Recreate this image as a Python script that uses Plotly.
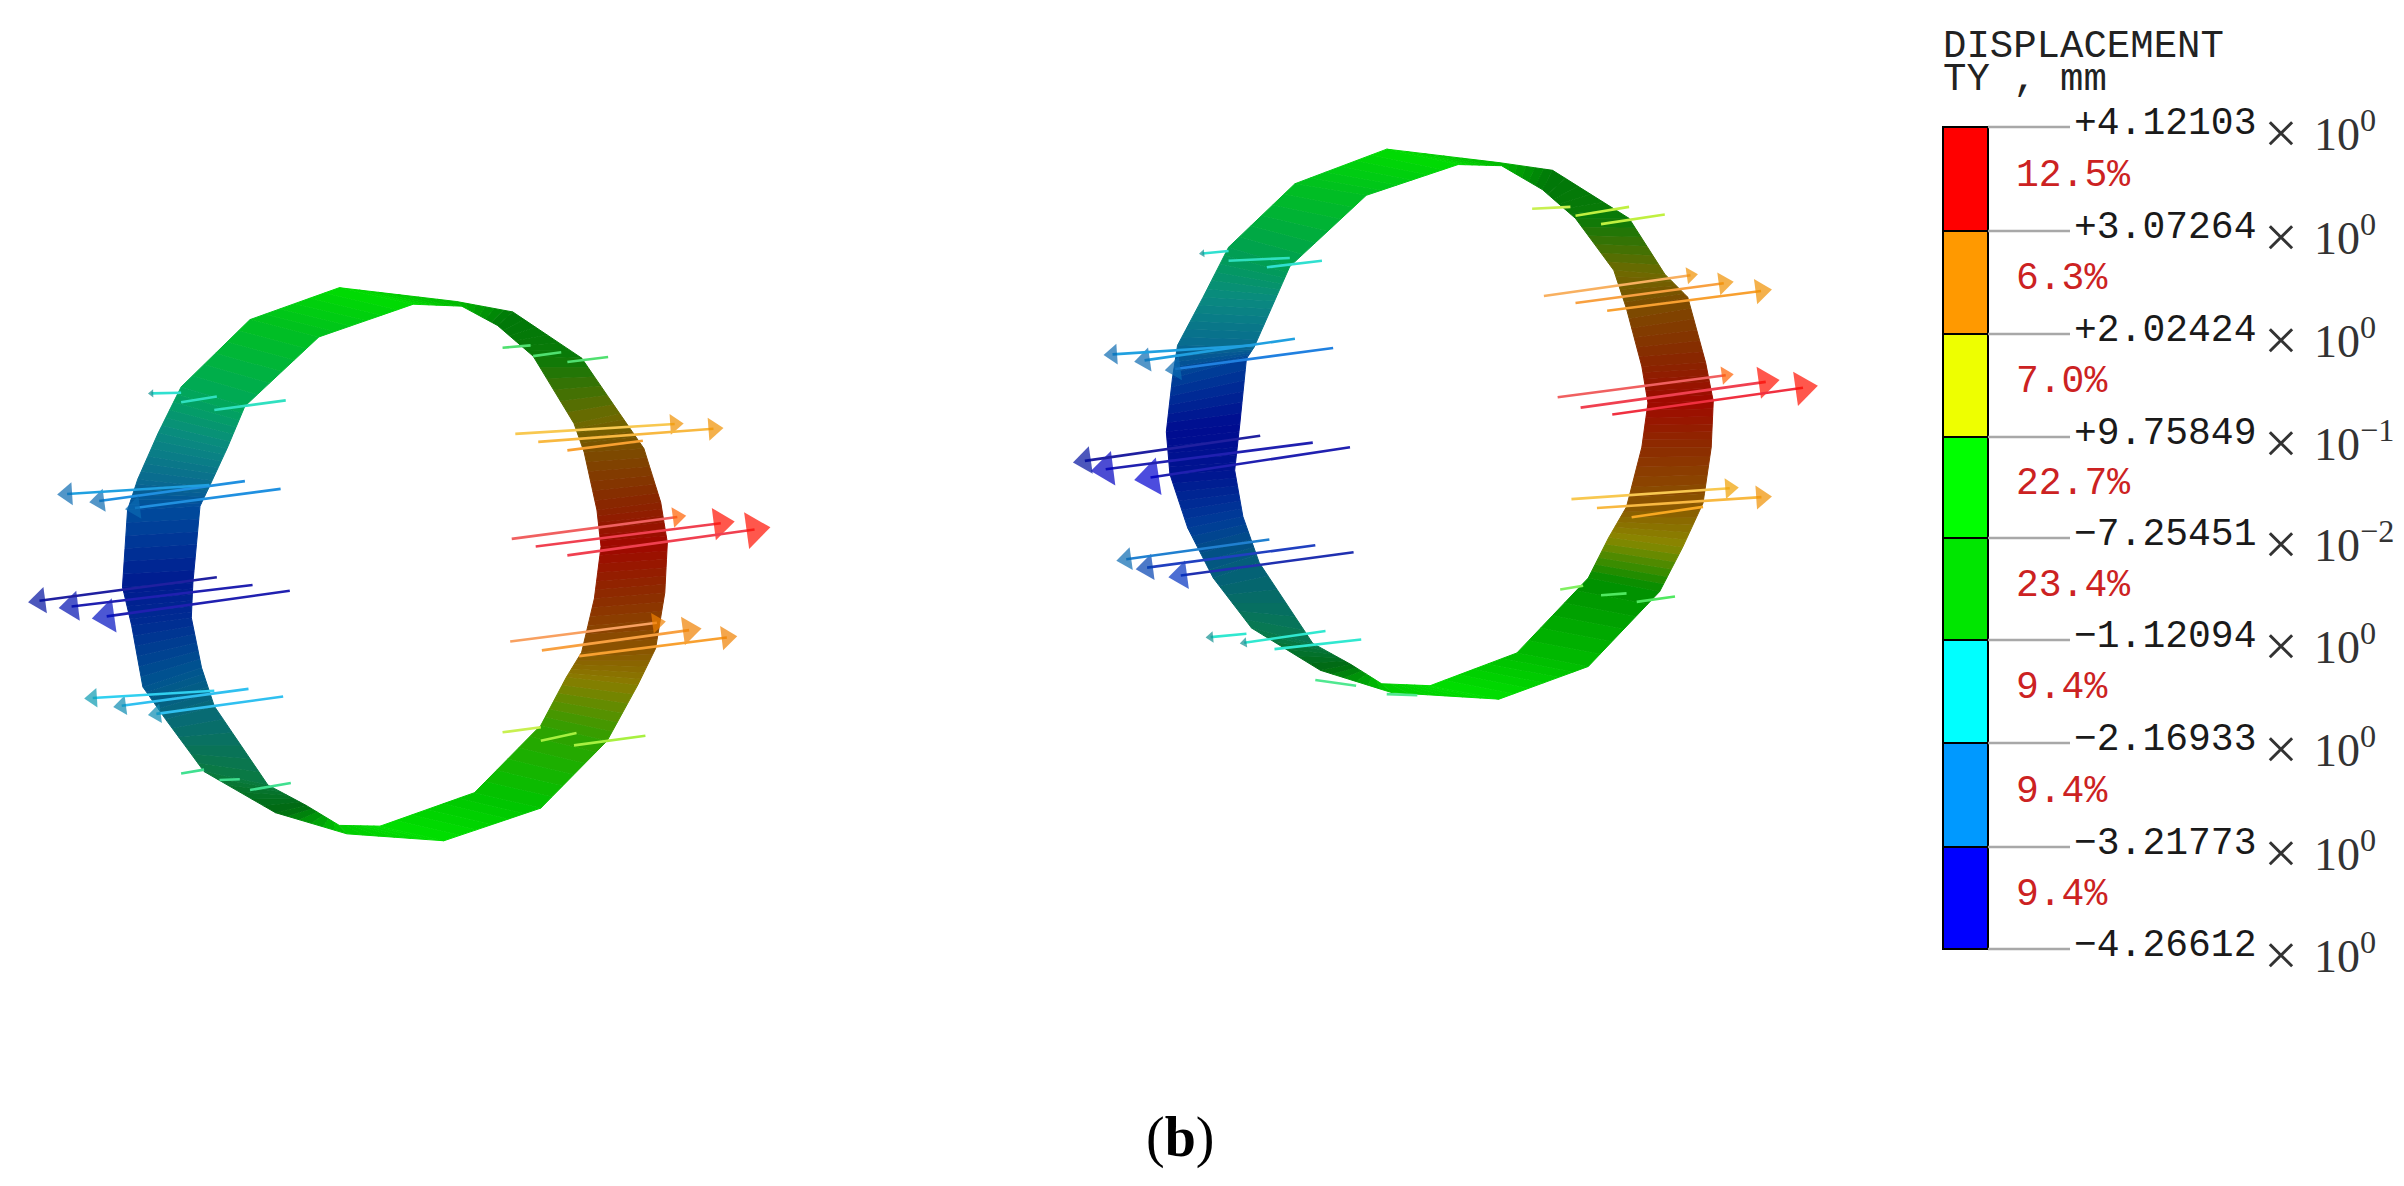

# displacement contour of two rings with nodal arrows, TY legend on the right
import math
import plotly.graph_objects as go

WIDTH = 2404
HEIGHT = 1186

# legend
legend_colors = ["#ff0000", "#ff9900", "#eeff00", "#00ff00", "#00e600", "#00ffff", "#0099ff", "#0000ff"]
legend_levels = [127, 231, 334, 437, 538, 640, 743, 847, 949]
legend_values = ["+4.12103", "+3.07264", "+2.02424", "+9.75849", "\u22127.25451",
                 "\u22121.12094", "\u22122.16933", "\u22123.21773", "\u22124.26612"]
legend_exponents = ["0", "0", "0", "-1", "-2", "0", "0", "0", "0"]
legend_percents = ["12.5%", "6.3%", "7.0%", "22.7%", "23.4%", "9.4%", "9.4%", "9.4%"]

# ring outlines, read in crop coordinates (crop scale 1.96 across, 2.6 down)
CROP_SCALE_X = 1.96
CROP_SCALE_Y = 2.6
ring1_origin = (0, 260)
ring1_outer = [(355, 330), (490, 155), (665, 72), (895, 108), (1005, 135), (1140, 255), (1215, 400),
               (1262, 490), (1295, 630), (1308, 735), (1303, 865), (1285, 1010), (1250, 1105), (1190, 1250),
               (1060, 1425), (870, 1510), (680, 1492), (540, 1437), (400, 1330), (325, 1195), (280, 1110),
               (258, 950), (240, 850), (250, 650), (270, 570), (310, 450)]
ring1_inner = [(480, 380), (625, 200), (810, 115), (905, 120), (975, 170), (1045, 250), (1125, 425),
               (1145, 500), (1170, 650), (1178, 745), (1165, 880), (1140, 1020), (1110, 1085), (1060, 1210),
               (930, 1385), (745, 1472), (665, 1470), (600, 1418), (525, 1365), (420, 1160), (395, 1060),
               (375, 930), (378, 840), (392, 640), (410, 590), (445, 490)]
ring1_colors = ["#00a858", "#00c020", "#00dc00", "#00b800", "#007808", "#0a7a08", "#6e6a00",
                "#7c4c00", "#8a2400", "#a00800", "#8c2c00", "#8a5400", "#8a7c00", "#30a000",
                "#00c400", "#00e000", "#00cc00", "#006a10", "#0a7a40", "#086a78", "#005490",
                "#002c92", "#001a90", "#004c9c", "#0a6a90", "#0a8a80"]

ring2_origin = (1050, 128)
ring2_outer = [(350, 310), (480, 145), (660, 55), (880, 90), (985, 110), (1135, 235), (1205, 380),
               (1250, 440), (1285, 610), (1300, 710), (1296, 830), (1280, 975), (1240, 1090), (1195, 1205),
               (1055, 1400), (880, 1485), (670, 1468), (530, 1410), (395, 1300), (320, 1170), (270, 1040),
               (235, 900), (228, 790), (240, 650), (250, 565), (300, 440)]
ring2_inner = [(470, 360), (620, 175), (800, 95), (885, 98), (965, 160), (1030, 235), (1105, 370),
               (1130, 470), (1160, 620), (1172, 715), (1160, 830), (1130, 985), (1095, 1065), (1055, 1170),
               (915, 1365), (745, 1450), (650, 1445), (590, 1395), (515, 1340), (410, 1130), (378, 1010),
               (362, 890), (372, 770), (385, 600), (400, 570), (440, 450)]
ring2_colors = ["#00a050", "#00c020", "#00dc00", "#00b800", "#007808", "#0a7a08", "#6e6a00",
                "#7c4c00", "#8a2400", "#a00800", "#8c2c00", "#8a5400", "#8a8800", "#008e00",
                "#00bc00", "#00e000", "#00cc00", "#006a10", "#087a50", "#046078", "#003c98",
                "#001490", "#000c90", "#004098", "#086a90", "#0a8a80"]

# arrows: tail x, tail y, tip x, tip y, line colour, head colour, head size
ring1_arrows = [
    (480, 575, 175, 630, "#2090e0", "#0a6ab0", 20), (550, 595, 245, 648, "#2090e0", "#0a6ab0", 20),
    (410, 585, 112, 610, "#20a0e0", "#0a6ab0", 20),
    (568, 860, 180, 932, "#2020b0", "#0010c0", 30), (495, 845, 115, 905, "#2020b0", "#0010b0", 26),
    (425, 825, 55, 890, "#2020a0", "#0010a0", 23),
    (555, 1135, 290, 1183, "#30c0f0", "#0a8ab0", 17), (487, 1115, 222, 1162, "#30c0f0", "#0a8ab0", 17),
    (420, 1120, 165, 1140, "#30d0f0", "#0a9ab0", 17),
    (560, 365, 420, 390, "#30e0c0", "#30e0c0", 0), (425, 355, 355, 370, "#30e0c0", "#30e0c0", 0),
    (355, 345, 290, 347, "#30e0d0", "#109090", 7),
    (570, 1360, 490, 1378, "#40e090", "#40e090", 0), (470, 1350, 430, 1352, "#40e090", "#40e090", 0),
    (400, 1325, 355, 1335, "#40e090", "#40e090", 0),
    (1010, 452, 1340, 425, "#f8c850", "#f09000", 18), (1055, 473, 1418, 437, "#f8b840", "#f09000", 20),
    (1112, 495, 1260, 470, "#f8a030", "#f09000", 0),
    (1003, 725, 1345, 665, "#f06060", "#ff6000", 18), (1050, 745, 1440, 680, "#f04050", "#ff1000", 28),
    (1112, 768, 1510, 695, "#f04050", "#ff1000", 32),
    (1000, 992, 1305, 940, "#f8a060", "#f08000", 18), (1062, 1015, 1375, 958, "#f8a040", "#f08000", 25),
    (1135, 1030, 1445, 978, "#f8a030", "#f08000", 21),
    (985, 1228, 1060, 1215, "#c8f050", "#c8f050", 0), (1060, 1250, 1130, 1230, "#a8f040", "#a8f040", 0),
    (1125, 1262, 1265, 1237, "#a8f040", "#a8f040", 0),
    (985, 228, 1040, 222, "#50e070", "#50e070", 0), (1045, 250, 1100, 240, "#50e070", "#50e070", 0),
    (1112, 265, 1192, 252, "#50e070", "#50e070", 0),
]
ring2_arrows = [
    (555, 572, 225, 630, "#2080e0", "#0a6ab0", 21), (480, 548, 165, 608, "#20a0e0", "#0a6ab0", 21),
    (400, 565, 105, 590, "#20a0e0", "#0a6ab0", 18),
    (588, 830, 165, 915, "#2020b0", "#0000d0", 33), (515, 818, 80, 892, "#2020b0", "#0000c0", 30),
    (412, 800, 45, 870, "#2020a0", "#0010a0", 24),
    (595, 1103, 232, 1168, "#2030b0", "#0030c0", 25), (520, 1085, 168, 1147, "#2040c0", "#0040b0", 23),
    (430, 1070, 130, 1125, "#2080d0", "#0a6ab0", 20),
    (533, 345, 425, 362, "#30e0d0", "#30e0d0", 0), (470, 338, 350, 345, "#30e0c0", "#30e0c0", 0),
    (350, 320, 292, 327, "#30e0d0", "#109090", 7),
    (610, 1330, 440, 1355, "#30e8d0", "#30e8d0", 0), (540, 1308, 372, 1340, "#30e8d0", "#109090", 9),
    (385, 1315, 305, 1325, "#30e8d0", "#109090", 10),
    (600, 1450, 520, 1435, "#50e890", "#50e890", 0), (720, 1475, 660, 1472, "#50e890", "#50e890", 0),
    (968, 437, 1270, 380, "#f8b060", "#f09000", 15), (1030, 455, 1340, 400, "#f8a040", "#f09000", 20),
    (1092, 475, 1415, 420, "#f8a030", "#f09000", 22),
    (995, 700, 1340, 640, "#f06060", "#ff6000", 16), (1040, 727, 1430, 655, "#f04050", "#ff1000", 28),
    (1102, 745, 1505, 670, "#f03040", "#ff1000", 30),
    (1022, 965, 1350, 935, "#f8c850", "#f0a000", 18), (1072, 988, 1415, 958, "#f8b840", "#f09000", 21),
    (1140, 1012, 1280, 985, "#f8a820", "#f09000", 0),
    (945, 210, 1020, 205, "#c8f050", "#c8f050", 0), (1030, 228, 1135, 205, "#c0f040", "#c0f040", 0),
    (1080, 250, 1205, 225, "#c0f040", "#c0f040", 0),
    (1000, 1200, 1045, 1190, "#80f060", "#80f060", 0), (1080, 1215, 1130, 1210, "#50e860", "#50e860", 0),
    (1150, 1232, 1225, 1218, "#50e860", "#50e860", 0),
]


def to_px(x, y, origin):
    return origin[0] + x / CROP_SCALE_X, origin[1] + y / CROP_SCALE_Y


def mix(c1, c2, t):
    a = [int(c1[i:i + 2], 16) for i in (1, 3, 5)]
    b = [int(c2[i:i + 2], 16) for i in (1, 3, 5)]
    return "#%02x%02x%02x" % tuple(round(p + (q - p) * t) for p, q in zip(a, b))


fig = go.Figure()


def add_ring(outer, inner, colors, origin):
    # each band segment is split in thin strips so the colour runs smoothly along the ring
    steps = 6
    n = len(outer)
    for i in range(n):
        j = (i + 1) % n
        for s in range(steps):
            t0, t1 = s / steps, (s + 1) / steps
            corners = []
            for (p, t) in [(outer, t0), (outer, t1), (inner, t1), (inner, t0)]:
                x = p[i][0] + (p[j][0] - p[i][0]) * t
                y = p[i][1] + (p[j][1] - p[i][1]) * t
                corners.append(to_px(x, y, origin))
            color = mix(colors[i], colors[j], (t0 + t1) / 2)
            fig.add_trace(go.Scatter(
                x=[c[0] for c in corners], y=[c[1] for c in corners],
                mode="lines", fill="toself", fillcolor=color,
                line=dict(color=color, width=1), hoverinfo="skip", showlegend=False))


def add_arrows(arrows, origin):
    for (x0, y0, x1, y1, line_color, head_color, head) in arrows:
        tail = to_px(x0, y0, origin)
        tip = to_px(x1, y1, origin)
        # marker is centred on its point, pull it back so the head ends at the tip
        length = math.hypot(tip[0] - tail[0], tip[1] - tail[1])
        back = head / 2 / length
        end = (tip[0] - (tip[0] - tail[0]) * back, tip[1] - (tip[1] - tail[1]) * back)
        fig.add_trace(go.Scatter(
            x=[tail[0], end[0]], y=[tail[1], end[1]],
            mode="lines+markers",
            line=dict(color=line_color, width=2.6),
            marker=dict(symbol="triangle-up", angleref="previous", size=[0, head], color=head_color,
                        line=dict(width=0)),
            hoverinfo="skip", showlegend=False))


add_ring(ring1_outer, ring1_inner, ring1_colors, ring1_origin)
add_ring(ring2_outer, ring2_inner, ring2_colors, ring2_origin)
add_arrows(ring1_arrows, ring1_origin)
add_arrows(ring2_arrows, ring2_origin)

# legend colour bar
fig.add_trace(go.Bar(
    x=[1965.5] * len(legend_colors),
    base=legend_levels[:-1],
    y=[legend_levels[i + 1] - legend_levels[i] for i in range(len(legend_colors))],
    width=45,
    marker=dict(color=legend_colors, line=dict(color="#000000", width=2)),
    hoverinfo="skip", showlegend=False))

MONO = "Liberation Mono"
SERIF = "Liberation Serif"

for level, value, exponent in zip(legend_levels, legend_values, legend_exponents):
    fig.add_trace(go.Scatter(x=[1988, 2070], y=[level, level], mode="lines",
                             line=dict(color="#a8a8a8", width=2.5), hoverinfo="skip", showlegend=False))
    fig.add_annotation(x=2072, y=level - 4, text=value, showarrow=False, xanchor="left", yanchor="middle",
                       font=dict(family=MONO, size=38, color="#1a1a1a"))
    fig.add_annotation(x=2262, y=level + 6, text="\u00d7", showarrow=False, xanchor="left", yanchor="middle",
                       font=dict(family=SERIF, size=60, color="#333333"))
    fig.add_annotation(x=2312, y=level + 4, text=f"10<sup>{exponent.replace('-', chr(0x2212))}</sup>",
                       showarrow=False, xanchor="left", yanchor="middle",
                       font=dict(family=SERIF, size=46, color="#333333"))

for i, percent in enumerate(legend_percents):
    fig.add_annotation(x=2014, y=(legend_levels[i] + legend_levels[i + 1]) / 2 - 4, text=percent,
                       showarrow=False, xanchor="left", yanchor="middle",
                       font=dict(family=MONO, size=38, color="#cc2222"))

fig.add_annotation(x=1941, y=47, text="DISPLACEMENT", showarrow=False, xanchor="left", yanchor="middle",
                   font=dict(family=MONO, size=39, color="#222222"))
fig.add_annotation(x=1941, y=80, text="TY , mm", showarrow=False, xanchor="left", yanchor="middle",
                   font=dict(family=MONO, size=39, color="#222222"))
fig.add_annotation(x=1180, y=1137, text="(<b>b</b>)", showarrow=False, xanchor="center", yanchor="middle",
                   font=dict(family=SERIF, size=56, color="#000000"))

fig.update_layout(
    width=WIDTH, height=HEIGHT,
    margin=dict(l=0, r=0, t=0, b=0),
    paper_bgcolor="white", plot_bgcolor="white",
    xaxis=dict(range=[0, WIDTH], visible=False, fixedrange=True),
    yaxis=dict(range=[HEIGHT, 0], visible=False, fixedrange=True),
    showlegend=False,
)

fig.write_html("out.html", config=dict(displayModeBar=False),
               post_script="document.body.style.margin='0';")
